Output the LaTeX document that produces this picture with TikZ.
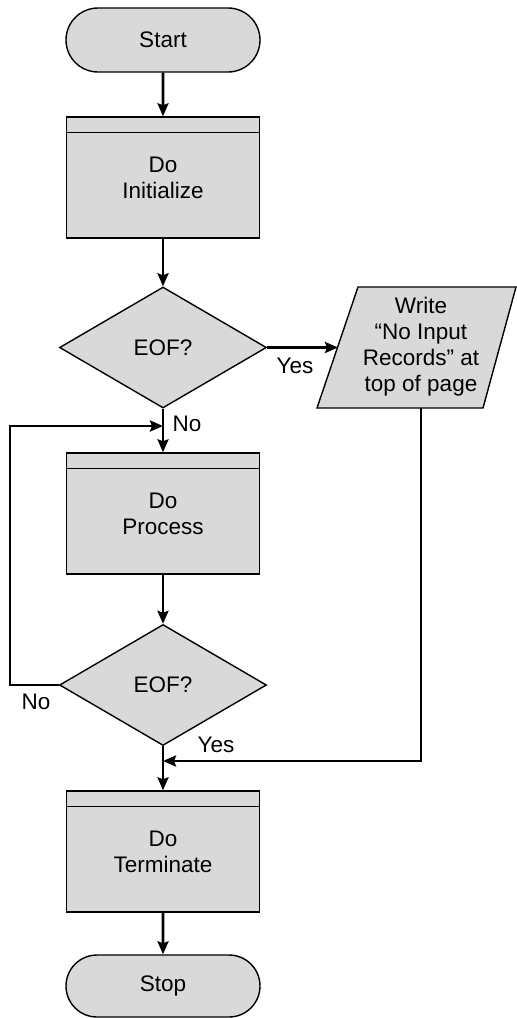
\documentclass[tikz,border=0pt]{standalone}
\usepackage{fontspec}
\setmainfont{Liberation Sans}
\usetikzlibrary{shapes.geometric,shapes.misc,arrows.meta,calc}
\definecolor{boxgray}{RGB}{217,217,217}
\begin{document}
\begin{tikzpicture}[x=1pt,y=-1pt,
  font=\fontsize{22.5}{26}\selectfont,
  shapeline/.style={draw=black, line width=1.4pt, fill=boxgray},
  terminal/.style={shapeline, rounded rectangle, minimum width=194pt, minimum height=64pt, inner sep=0pt},
  procbox/.style={shapeline, rectangle, minimum width=193pt, minimum height=121pt, align=center, inner sep=0pt},
  decision/.style={shapeline, diamond, minimum width=207pt, minimum height=121pt, inner sep=0pt},
  iotext/.style={align=center, inner sep=0pt},
  flow/.style={line width=2.6pt, -{Stealth[length=13pt,width=11pt,inset=2pt]}},
  lbl/.style={inner sep=0pt}
]
\useasboundingbox (0,0) rectangle (517,1018);

% main column
\node[terminal] (start) at (163,40) {Start};
\node[procbox] (init) at (163,177.5) {Do\\Initialize};
\node[decision] (eof1) at (163,347.5) {EOF?};
\node[procbox] (proc) at (163,513.5) {Do\\Process};
\node[decision] (eof2) at (163,685) {EOF?};
\node[procbox] (term) at (163,851.5) {Do\\Terminate};
\node[terminal, minimum height=62pt] (stop) at (163,986) {Stop};

% header stripes of the predefined-process boxes
\foreach \b in {init,proc,term}
  \draw[line width=1.4pt] ($(\b.north west)+(0,16)$) -- ($(\b.north east)+(0,16)$);

% output parallelogram
\filldraw[shapeline] (358,287) -- (516,287) -- (483,408) -- (317,408) -- cycle;
\node[iotext] (io) at (421,347) {Write\\“No Input\\Records” at\\top of page};
\coordinate (ioin) at (338,347.5);
\coordinate (ioout) at (421,408);

% loop and join points
\coordinate (loopl) at (10,685);
\coordinate (loopt) at (10,426);
\coordinate (loopin) at (163,426);
\coordinate (joinr) at (421,761);
\coordinate (joinin) at (163,761);

% connectors
\draw[flow] (start) -- (init);
\draw[flow] (init) -- (eof1);
\draw[flow] (eof1.east) -- (ioin);
\draw[flow] (eof1) -- (proc);
\draw[flow] (proc) -- (eof2);
\draw[flow] (eof2) -- (term);
\draw[flow] (term) -- (stop);
\draw[flow] (eof2.west) -- (loopl) -- (loopt) -- (loopin);
\draw[flow] (ioout) -- (joinr) -- (joinin);

% branch labels
\node[lbl] (yes1) at (295,366) {Yes};
\node[lbl] (no1) at (187,424) {No};
\node[lbl] (no2) at (36,702) {No};
\node[lbl] (yes2) at (216,745) {Yes};
\end{tikzpicture}
\end{document}
